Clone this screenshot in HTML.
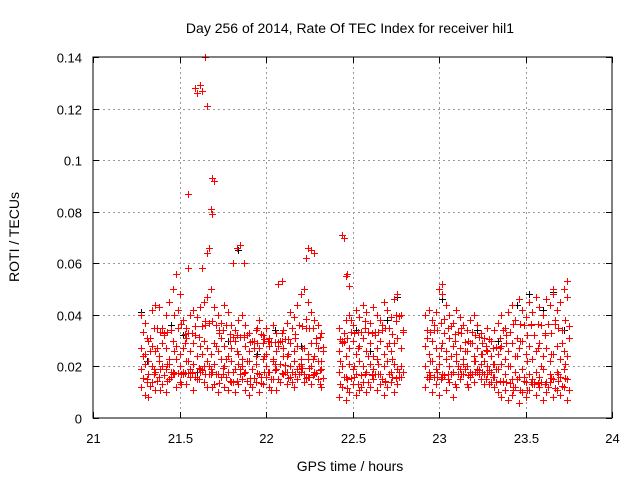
<!DOCTYPE html>
<html><head><meta charset="utf-8"><style>
body{margin:0;background:#fff}
svg{display:block;font-family:"Liberation Sans",sans-serif}
</style></head><body>
<svg id="chart" width="640" height="480">
<rect width="640" height="480" fill="#fff"/>
<g id="grid"></g>
<g id="marks"></g>
<rect x="93" y="57" width="519" height="361" fill="none" stroke="#000" stroke-width="1"/>
<g id="ticks"></g>
<text x="350" y="33" text-anchor="middle" font-size="14">Day 256 of 2014, Rate Of TEC Index for receiver hil1</text>
<text x="350" y="471" text-anchor="middle" font-size="14">GPS time / hours</text>
<text x="19" y="237" text-anchor="middle" font-size="14" transform="rotate(-90 19 237)">ROTI / TECUs</text>
</svg>
<script>
const xTicks=[21,21.5,22,22.5,23,23.5,24];
const xTickLabels=["21","21.5","22","22.5","23","23.5","24"];
const yTicks=[0,0.02,0.04,0.06,0.08,0.1,0.12,0.14];
const yTickLabels=["0","0.02","0.04","0.06","0.08","0.1","0.12","0.14"];
const times=[21.28,21.30,21.32,21.34,21.36,21.38,21.40,21.42,21.44,21.46,21.48,21.50,21.52,21.54,21.56,21.58,21.60,21.62,21.64,21.66,21.68,21.70,21.72,21.74,21.76,21.78,21.80,21.82,21.84,21.86,21.88,21.90,21.92,21.94,21.96,21.98,22.00,22.02,22.04,22.06,22.08,22.10,22.12,22.14,22.16,22.18,22.20,22.22,22.24,22.26,22.28,22.30,22.32,
22.42,22.44,22.46,22.48,22.50,22.52,22.54,22.56,22.58,22.60,22.62,22.64,22.66,22.68,22.70,22.72,22.74,22.76,22.78,
22.92,22.94,22.96,22.98,23.00,23.02,23.04,23.06,23.08,23.10,23.12,23.14,23.16,23.18,23.20,23.22,23.24,23.26,23.28,23.30,23.32,23.34,23.36,23.38,23.40,23.42,23.44,23.46,23.48,23.50,23.52,23.54,23.56,23.58,23.60,23.62,23.64,23.66,23.68,23.70,23.72,23.74];
const rotiA=[.040,.037,.030,.042,.044,.043,.035,.040,.045,.050,.056,.048,.038,.035,.040,.042,.039,.043,.045,.047,.050,.043,.040,.037,.044,.041,.036,.034,.038,.040,.036,.033,.030,.034,.038,.032,.035,.031,.036,.033,.030,.034,.037,.041,.039,.044,.048,.050,.045,.041,.038,.036,.033,
.035,.030,.038,.040,.036,.042,.039,.044,.041,.037,.043,.040,.038,.045,.042,.039,.046,.048,.040,
.040,.042,.038,.041,.050,.048,.044,.040,.037,.042,.039,.036,.034,.038,.040,.036,.033,.031,.035,.030,.034,.037,.040,.035,.041,.044,.038,.046,.042,.039,.045,.041,.047,.043,.040,.046,.044,.048,.042,.045,.050,.047];
const rotiB=[.027,.025,.022,.028,.026,.024,.029,.027,.023,.030,.028,.025,.027,.031,.026,.029,.024,.028,.030,.027,.025,.029,.026,.031,.028,.024,.027,.030,.025,.023,.028,.026,.030,.024,.027,.029,.025,.028,.023,.026,.030,.027,.024,.029,.026,.028,.023,.027,.025,.029,.024,.027,.022,
.026,.029,.024,.027,.030,.025,.028,.031,.026,.029,.024,.027,.030,.025,.028,.026,.029,.031,.027,
.028,.025,.030,.027,.024,.029,.026,.031,.028,.025,.027,.023,.026,.029,.024,.027,.025,.022,.026,.024,.021,.025,.028,.023,.026,.029,.024,.027,.030,.025,.028,.023,.026,.029,.024,.027,.022,.025,.028,.023,.026,.024];
const rotiC=[.012,.009,.008,.014,.011,.016,.013,.010,.015,.018,.012,.014,.017,.013,.016,.011,.015,.019,.014,.012,.017,.013,.010,.016,.012,.011,.014,.010,.013,.015,.011,.009,.012,.014,.010,.013,.016,.012,.015,.011,.014,.017,.013,.016,.012,.015,.018,.014,.016,.013,.017,.015,.012,
.008,.012,.007,.010,.013,.009,.011,.014,.010,.012,.015,.011,.013,.009,.012,.014,.010,.013,.016,
.012,.015,.010,.013,.009,.016,.011,.014,.008,.012,.015,.017,.013,.016,.014,.018,.015,.013,.017,.014,.012,.010,.008,.011,.007,.009,.012,.006,.010,.008,.011,.013,.009,.012,.007,.010,.014,.008,.011,.009,.012,.007];
const rotiD=[.019,.021,.017,.020,.018,.022,.020,.019,.021,.017,.023,.020,.018,.022,.019,.021,.024,.018,.020,.022,.019,.021,.017,.023,.020,.018,.022,.019,.021,.020,.018,.022,.019,.021,.017,.023,.020,.018,.022,.019,.021,.024,.018,.020,.022,.019,.021,.017,.023,.020,.018,.022,.019,
.018,.020,.016,.021,.019,.017,.022,.020,.018,.021,.019,.023,.017,.020,.022,.018,.021,.019,.020,
.020,.018,.022,.019,.021,.017,.023,.020,.018,.022,.019,.021,.020,.018,.022,.019,.021,.017,.020,.018,.016,.019,.021,.017,.020,.015,.018,.016,.019,.014,.017,.015,.018,.016,.019,.014,.017,.015,.018,.016,.019,.015];
const rotiE=[.024,.014,.031,.019,.027,.011,.033,.021,.016,.026,.035,.013,.029,.022,.018,.032,.015,.025,.036,.020,.012,.028,.034,.017,.023,.030,.014,.026,.019,.032,.022,.013,.027,.035,.016,.024,.030,.011,.021,.028,.033,.018,.025,.014,.031,.020,.027,.035,.016,.023,.029,.013,.026,
.022,.033,.015,.038,.020,.027,.012,.035,.024,.017,.032,.021,.036,.014,.029,.023,.040,.018,.034,
.031,.022,.036,.018,.027,.033,.015,.024,.030,.020,.035,.026,.012,.029,.022,.017,.025,.028,.013,.021,.019,.027,.014,.032,.020,.011,.024,.030,.016,.022,.036,.013,.027,.020,.033,.012,.025,.038,.017,.029,.021,.031];
const spikeTimes=[21.55,21.59,21.60,21.62,21.63,21.65,21.66,21.69,21.70,21.68,21.69,21.67,21.66,21.63,21.55,21.83,21.85,21.81,21.87,22.24,22.26,22.28,22.23,22.44,22.45,22.47,22.46,22.48,22.07,22.09,23.02,23.00,23.74,23.66];
const spikeRoti=[.087,.128,.126,.129,.127,.140,.121,.093,.092,.081,.079,.066,.064,.058,.058,.066,.067,.060,.060,.066,.065,.064,.062,.071,.070,.056,.055,.051,.052,.053,.052,.050,.053,.050];
const blackTimes=[21.28,21.31,21.45,21.52,21.60,21.78,21.84,21.95,22.05,22.20,22.30,22.44,22.52,22.60,22.70,22.76,22.93,23.02,23.10,23.22,23.34,23.45,23.52,23.60,23.66,23.72];
const blackRoti=[.041,.022,.036,.032,.018,.030,.065,.025,.034,.028,.022,.030,.034,.026,.038,.047,.034,.046,.042,.034,.030,.044,.048,.042,.049,.034];

const NS="http://www.w3.org/2000/svg";
const X0=93,X1=612,Y0=418,Y1=57;
function xs(h){return X0+(h-21)/3*(X1-X0);}
function ys(v){return Y0-v/0.14*(Y0-Y1);}
const grid=document.getElementById('grid'),ticks=document.getElementById('ticks'),marks=document.getElementById('marks');
function mk(tag,attrs,parent){const e=document.createElementNS(NS,tag);for(const k in attrs)e.setAttribute(k,attrs[k]);parent.appendChild(e);return e;}
xTicks.forEach((t,i)=>{
  const x=Math.round(xs(t))+0.5;
  if(i>0&&i<xTicks.length-1){const g=mk('line',{x1:x,x2:x,y1:Y1,y2:Y0,stroke:'#999','stroke-dasharray':'2,3'},grid);
  
  }
  mk('line',{x1:x,x2:x,y1:Y0,y2:Y0-6,stroke:'#000'},ticks);
  mk('line',{x1:x,x2:x,y1:Y1,y2:Y1+6,stroke:'#000'},ticks);
  const tx=mk('text',{x:x,y:443,'text-anchor':'middle','font-size':13},ticks);
  tx.textContent=xTickLabels[i];
  
  
});
yTicks.forEach((t,i)=>{
  const y=Math.round(ys(t))+0.5;
  if(i>0&&i<yTicks.length-1){const g=mk('line',{x1:X0,x2:X1,y1:y,y2:y,stroke:'#999','stroke-dasharray':'2,3'},grid);
  
  }
  mk('line',{x1:X0,x2:X0+6,y1:y,y2:y,stroke:'#000'},ticks);
  mk('line',{x1:X1,x2:X1-6,y1:y,y2:y,stroke:'#000'},ticks);
  const tx=mk('text',{x:82,y:y+5,'text-anchor':'end','font-size':13},ticks);
  tx.textContent=yTickLabels[i];
  
  
});
function plus(h,v,color){
  const x=Math.round(xs(h))+0.5,y=Math.round(ys(v))+0.5;
  const p=mk('path',{d:`M${x-3.5},${y}H${x+3.5}M${x},${y-3.5}V${y+3.5}`,stroke:color,'stroke-width':1,fill:'none'},marks);
  
  
}
blackTimes.forEach((h,i)=>plus(h,blackRoti[i],'#000'));
[rotiA,rotiB,rotiC,rotiD].forEach(arr=>times.forEach((h,i)=>plus(h,arr[i],'#f00')));
times.forEach((h,i)=>plus(h+0.01,rotiE[i],'#f00'));
times.forEach((h,i)=>{plus(h+0.01,(rotiA[i]+rotiB[i])/2,'#f00');plus(h+0.01,(rotiC[i]+rotiD[i])/2,'#f00');});
spikeTimes.forEach((h,i)=>plus(h,spikeRoti[i],'#f00'));
</script>
</body></html>
